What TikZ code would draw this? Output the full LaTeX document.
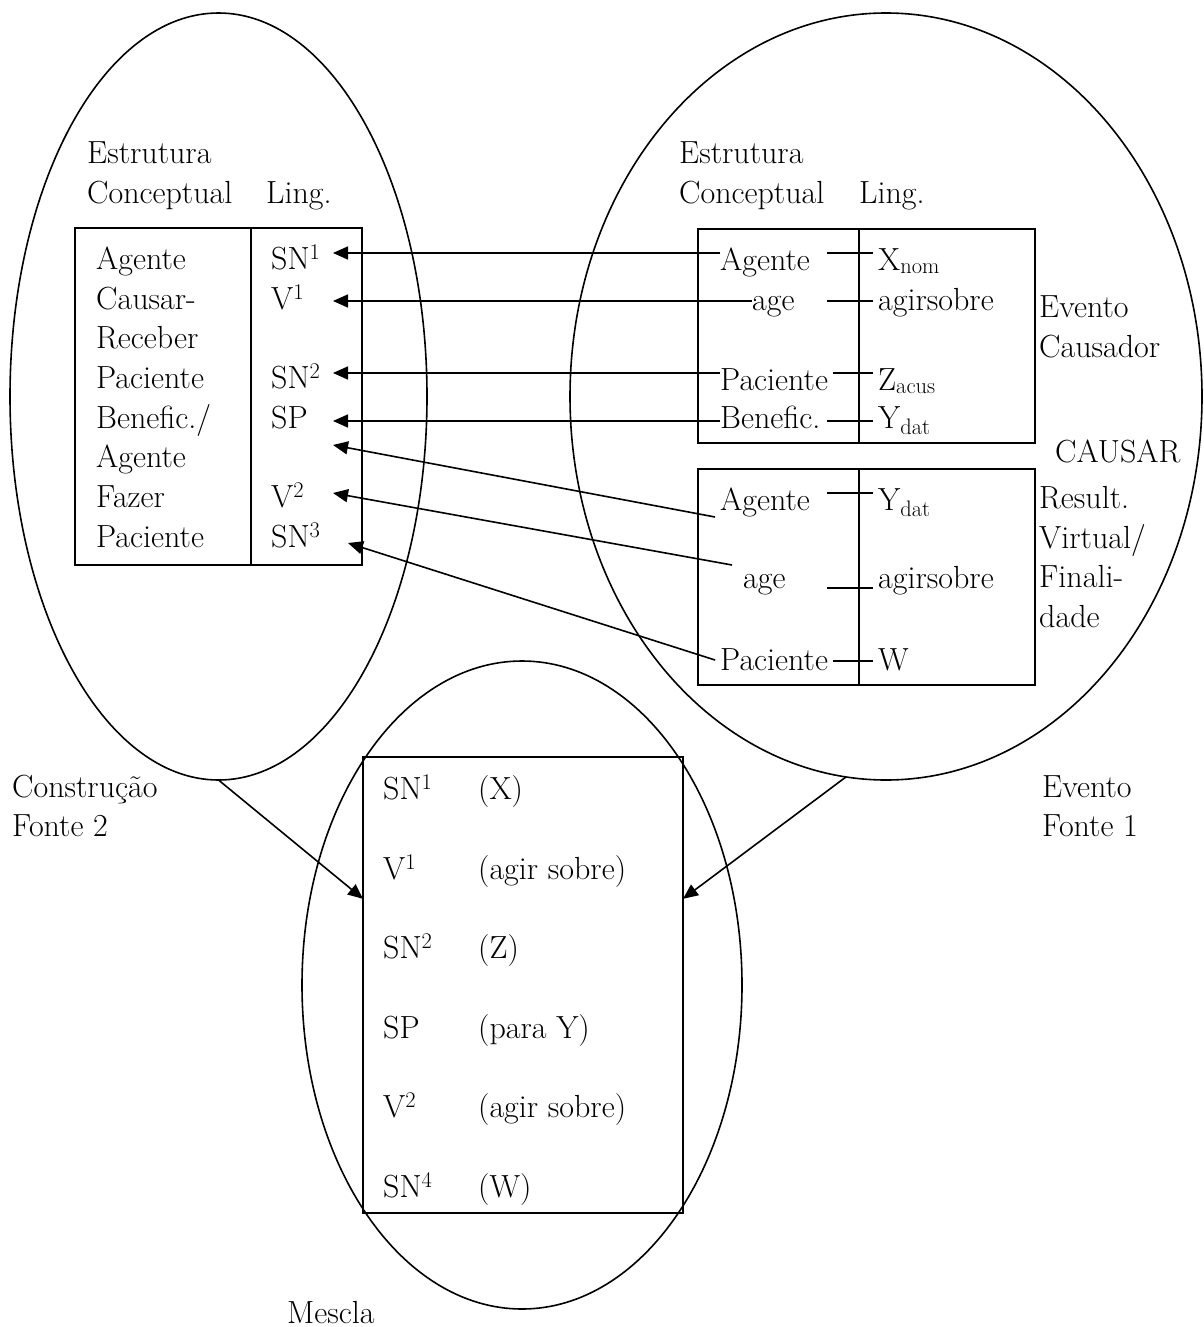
\documentclass[tikz,border=0pt]{standalone}
\usetikzlibrary{arrows.meta,shapes.geometric,calc}
\tikzset{
  txt/.style={inner sep=0pt,anchor=base west,font=\fontsize{32}{40}\selectfont},
  oval/.style={draw,ellipse,line width=1.6pt,inner sep=0pt,outer sep=0pt},
  tablebox/.style={draw,line width=1.6pt,inner sep=0pt,outer sep=0pt,anchor=north west},
  ln/.style={line width=1.6pt},
  arr/.style={-{Triangle[length=15pt,width=13pt]},line width=1.6pt},
}
\begin{document}
\begin{tikzpicture}[x=1pt,y=-1pt]
  \useasboundingbox (0,0) rectangle (1203,1327);
  % the three spaces
  \node[oval,minimum width=417pt,minimum height=767pt] (lell) at (218.5,396.5) {};
  \node[oval,minimum width=632pt,minimum height=767pt] (rell) at (886,396.5) {};
  \node[oval,minimum width=440pt,minimum height=648pt] (mell) at (522,985) {};
  % boxes
  \node[tablebox,minimum width=287pt,minimum height=337pt] (lbox) at (75,228) {};
  \node[tablebox,minimum width=337pt,minimum height=214pt] (rboxa) at (698,229) {};
  \node[tablebox,minimum width=337pt,minimum height=216pt] (rboxb) at (698,469) {};
  \node[tablebox,minimum width=320pt,minimum height=456pt] (mbox) at (363,757) {};
  \draw[ln] ([xshift=176pt]lbox.north west) -- ([xshift=176pt]lbox.south west);
  \foreach \b in {rboxa,rboxb}
    \draw[ln] ([xshift=161pt]\b.north west) -- ([xshift=161pt]\b.south west);
  % construction (left)
  \node[txt] (lh1) at (87,163) {Estrutura};
  \node[txt] (lh2) at (87,203) {Conceptual};
  \node[txt] (lh3) at (266,203) {Ling.};
  \node[txt] (lc1) at (96,269) {Agente};
  \node[txt] (lc2) at (96,309) {Causar-};
  \node[txt] (lc3) at (96,348) {Receber};
  \node[txt] (lc4) at (96,388) {Paciente};
  \node[txt] (lc5) at (96,428) {Benefic./};
  \node[txt] (lc6) at (96,467) {Agente};
  \node[txt] (lc7) at (96,507) {Fazer};
  \node[txt] (lc8) at (96,547) {Paciente};
  \node[txt] (ll1) at (271,269) {SN\textsuperscript{1}};
  \node[txt] (ll2) at (271,309) {V\textsuperscript{1}};
  \node[txt] (ll3) at (271,388) {SN\textsuperscript{2}};
  \node[txt] (ll4) at (271,428) {SP};
  \node[txt] (ll5) at (271,507) {V\textsuperscript{2}};
  \node[txt] (ll6) at (271,547) {SN\textsuperscript{3}};
  % event (right)
  \node[txt] (rh1) at (679,163) {Estrutura};
  \node[txt] (rh2) at (679,203) {Conceptual};
  \node[txt] (rh3) at (859,203) {Ling.};
  \node[txt] (ra1) at (720,270) {Agente};
  \node[txt] (ra2) at (752,310) {age};
  \node[txt] (ra3) at (720,390) {Paciente};
  \node[txt] (ra4) at (720,428) {Benefic.};
  \node[txt] (rx1) at (878,270) {X\textsubscript{nom}};
  \node[txt] (rx2) at (878,310) {agirsobre};
  \node[txt] (rx3) at (878,390) {Z\textsubscript{acus}};
  \node[txt] (rx4) at (878,428) {Y\textsubscript{dat}};
  \node[txt] (rb1) at (720,510) {Agente};
  \node[txt] (rb2) at (743,588) {age};
  \node[txt] (rb3) at (720,670) {Paciente};
  \node[txt] (bx1) at (878,510) {Y\textsubscript{dat}};
  \node[txt] (bx2) at (878,588) {agirsobre};
  \node[txt] (bx3) at (878,670) {W};
  \node[txt] (ev1) at (1039,317) {Evento};
  \node[txt] (ev2) at (1039,357) {Causador};
  \node[txt] (caus) at (1055,462) {CAUSAR};
  \node[txt] (rs1) at (1039,508) {Result.};
  \node[txt] (rs2) at (1039,548) {Virtual/};
  \node[txt] (rs3) at (1039,587) {Finali-};
  \node[txt] (rs4) at (1039,627) {dade};
  % space names
  \node[txt] (cf1) at (12,797) {Construção};
  \node[txt] (cf2) at (12,836) {Fonte 2};
  \node[txt] (ef1) at (1042,797) {Evento};
  \node[txt] (ef2) at (1042,836) {Fonte 1};
  \node[txt] (mes) at (287,1323) {Mescla};
  % blend
  \node[txt] (m1) at (383,799) {SN\textsuperscript{1}};
  \node[txt] (m2) at (383,879) {V\textsuperscript{1}};
  \node[txt] (m3) at (383,958) {SN\textsuperscript{2}};
  \node[txt] (m4) at (383,1038) {SP};
  \node[txt] (m5) at (383,1117) {V\textsuperscript{2}};
  \node[txt] (m6) at (383,1197) {SN\textsuperscript{4}};
  \node[txt] (n1) at (478,799) {(X)};
  \node[txt] (n2) at (478,879) {(agir sobre)};
  \node[txt] (n3) at (478,958) {(Z)};
  \node[txt] (n4) at (478,1038) {(para Y)};
  \node[txt] (n5) at (478,1117) {(agir sobre)};
  \node[txt] (n6) at (478,1197) {(W)};
  % tips in the Ling. column
  \coordinate (tSN1) at (333,253);
  \coordinate (tV1) at (333,301);
  \coordinate (tSN2) at (333,373);
  \coordinate (tSP) at (333,421);
  \coordinate (tAg) at (333,445);
  \coordinate (tV2) at (333,493);
  \coordinate (tSN3) at (348,543);
  \coordinate (mtipL) at ($(mbox.north west)!0.311!(mbox.south west)$);
  \coordinate (mtipR) at ($(mbox.north east)!0.311!(mbox.south east)$);
  % links inside the event boxes
  \foreach \n/\dx/\dy in {rx1/51/17,rx2/51/9,rx3/45/17,rx4/51/7,bx1/51/17,bx2/51/0,bx3/45/9}
    \draw[ln] ([xshift=-\dx pt,yshift=\dy pt]\n.base west) -- ([xshift=-5pt,yshift=\dy pt]\n.base west);
  % mappings
  \draw[arr] ([yshift=17pt]ra1.base west) -- (tSN1);
  \draw[arr] ([yshift=9pt]ra2.base west) -- (tV1);
  \draw[arr] ([yshift=17pt]ra3.base west) -- (tSN2);
  \draw[arr] ([yshift=7pt]ra4.base west) -- (tSP);
  \draw[arr] ([xshift=-5pt,yshift=-7pt]rb1.base west) -- (tAg);
  \draw[arr] ([xshift=-11pt,yshift=23pt]rb2.base west) -- (tV2);
  \draw[arr] ([xshift=-5pt,yshift=10pt]rb3.base west) -- (tSN3);
  \draw[arr] (lell.south) -- (mtipL);
  \draw[arr] (rell.-96) -- (mtipR);
\end{tikzpicture}
\end{document}
